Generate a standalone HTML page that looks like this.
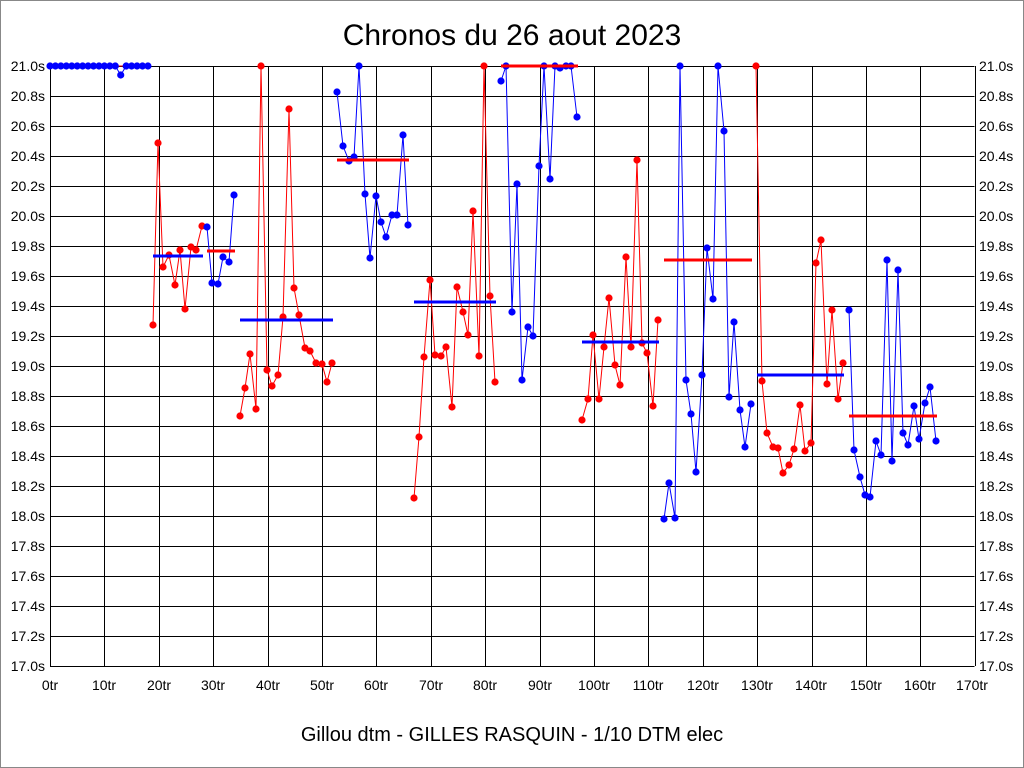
<!DOCTYPE html>
<html><head><meta charset="utf-8"><style>
html,body{margin:0;padding:0;background:#fff}
svg{display:block}
text{font-family:"Liberation Sans",sans-serif;fill:#000}
</style></head><body>
<svg id="s" width="1024" height="768" viewBox="0 0 1024 768" xmlns="http://www.w3.org/2000/svg">
<rect x="0.5" y="0.5" width="1023" height="767" fill="#fff" stroke="#888"/>
<text x="512" y="45" font-size="30" text-anchor="middle">Chronos du 26 aout 2023</text>
<text x="512" y="741" font-size="20" text-anchor="middle">Gillou dtm - GILLES RASQUIN - 1/10 DTM elec</text>
<g id="grid" stroke="#000" stroke-width="1"></g>
<g font-size="14">
<text x="45" y="71" text-anchor="end">21.0s</text><text x="45" y="101" text-anchor="end">20.8s</text><text x="45" y="131" text-anchor="end">20.6s</text><text x="45" y="161" text-anchor="end">20.4s</text><text x="45" y="191" text-anchor="end">20.2s</text><text x="45" y="221" text-anchor="end">20.0s</text><text x="45" y="251" text-anchor="end">19.8s</text><text x="45" y="281" text-anchor="end">19.6s</text><text x="45" y="311" text-anchor="end">19.4s</text><text x="45" y="341" text-anchor="end">19.2s</text><text x="45" y="371" text-anchor="end">19.0s</text><text x="45" y="401" text-anchor="end">18.8s</text><text x="45" y="431" text-anchor="end">18.6s</text><text x="45" y="461" text-anchor="end">18.4s</text><text x="45" y="491" text-anchor="end">18.2s</text><text x="45" y="521" text-anchor="end">18.0s</text><text x="45" y="551" text-anchor="end">17.8s</text><text x="45" y="581" text-anchor="end">17.6s</text><text x="45" y="611" text-anchor="end">17.4s</text><text x="45" y="641" text-anchor="end">17.2s</text><text x="45" y="671" text-anchor="end">17.0s</text>
<text x="979" y="71">21.0s</text><text x="979" y="101">20.8s</text><text x="979" y="131">20.6s</text><text x="979" y="161">20.4s</text><text x="979" y="191">20.2s</text><text x="979" y="221">20.0s</text><text x="979" y="251">19.8s</text><text x="979" y="281">19.6s</text><text x="979" y="311">19.4s</text><text x="979" y="341">19.2s</text><text x="979" y="371">19.0s</text><text x="979" y="401">18.8s</text><text x="979" y="431">18.6s</text><text x="979" y="461">18.4s</text><text x="979" y="491">18.2s</text><text x="979" y="521">18.0s</text><text x="979" y="551">17.8s</text><text x="979" y="581">17.6s</text><text x="979" y="611">17.4s</text><text x="979" y="641">17.2s</text><text x="979" y="671">17.0s</text>
<text x="50" y="690" text-anchor="middle">0tr</text><text x="104" y="690" text-anchor="middle">10tr</text><text x="159" y="690" text-anchor="middle">20tr</text><text x="213" y="690" text-anchor="middle">30tr</text><text x="268" y="690" text-anchor="middle">40tr</text><text x="322" y="690" text-anchor="middle">50tr</text><text x="376" y="690" text-anchor="middle">60tr</text><text x="431" y="690" text-anchor="middle">70tr</text><text x="485" y="690" text-anchor="middle">80tr</text><text x="540" y="690" text-anchor="middle">90tr</text><text x="594" y="690" text-anchor="middle">100tr</text><text x="648" y="690" text-anchor="middle">110tr</text><text x="703" y="690" text-anchor="middle">120tr</text><text x="757" y="690" text-anchor="middle">130tr</text><text x="811" y="690" text-anchor="middle">140tr</text><text x="866" y="690" text-anchor="middle">150tr</text><text x="920" y="690" text-anchor="middle">160tr</text><text x="972" y="690" text-anchor="middle">170tr</text>
</g>
<g id="data"></g>
</svg>
<script>
var NS="http://www.w3.org/2000/svg";
function el(p,n,a){var e=document.createElementNS(NS,n);for(var k in a)e.setAttribute(k,a[k]);p.appendChild(e);return e;}
var g=document.getElementById('grid');
for(var i=0;i<=20;i++){var y=66+i*30;el(g,'line',{x1:50,x2:974.5,y1:y+.5,y2:y+.5});}
for(var i=0;i<=17;i++){var x=Math.round(50+i*54.4)+.5;el(g,'line',{x1:x,x2:x,y1:66,y2:666});}
var d=document.getElementById('data');
var R='#f00',B='#00f';
var topPts=[];for(var t=0;t<=18;t++)topPts.push([50+t*5.44,t==13?75:66]);
var segs=[
[R,[[50,66],[148,66]]],
[B,topPts],
[R,[[153,325],[158,143],[163,267],[169,255],[175,285],[180,250],[185,309],[191,247],[196,250],[202,226]]],
[B,[[207,227],[212,283],[218,284],[223,257],[229,262],[234,195]]],
[R,[[240,416],[245,388],[250,354],[256,409],[261,66],[267,370],[272,386],[278,375],[283,317],[289,109],[294,288],[299,315],[305,348],[310,351],[316,363],[322,364],[327,382],[332,363]]],
[B,[[337,92],[343,146],[349,161],[354,157],[359,66],[365,194],[370,258],[376,196],[381,222],[386,237],[392,215],[397,215],[403,135],[408,225]]],
[R,[[414,498],[419,437],[424,357],[430,280],[435,355],[441,356],[446,347],[452,407],[457,287],[463,312],[468,335],[473,211],[479,356],[484,66],[490,296],[495,382]]],
[B,[[501,81],[506,66],[512,312],[517,184],[522,380],[528,327],[533,336],[539,166],[544,66],[550,179],[555,66],[560,68],[566,66],[571,66],[577,117]]],
[R,[[582,420],[588,399],[593,335],[599,399],[604,347],[609,298],[615,365],[620,385],[626,257],[631,347],[637,160],[642,343],[647,353],[653,406],[658,320]]],
[B,[[664,519],[669,483],[675,518],[680,66],[686,380],[691,414],[696,472],[702,375],[707,248],[713,299],[718,66],[724,131],[729,397],[734,322],[740,410],[745,447],[751,404]]],
[R,[[756,66],[762,381],[767,433],[773,447],[778,448],[783,473],[789,465],[794,449],[800,405],[805,451],[811,443],[816,263],[821,240],[827,384],[832,310],[838,399],[843,363]]],
[B,[[849,310],[854,450],[860,477],[865,495],[870,497],[876,441],[881,455],[887,260],[892,461],[898,270],[903,433],[908,445],[914,406],[919,439],[925,403],[930,387],[936,441]]]
];
var avg=[[B,153,203,256],[R,207,235,251],[B,240,333,320],[R,337,409,160],[B,414,496,302],[R,501,578,66],[B,582,659,342],[R,664,752,260],[B,757,844,375],[R,849,937,416]];
segs.forEach(function(s,idx){
 el(d,'polyline',{points:s[1].map(function(p){return p.join(',')}).join(' '),fill:'none',stroke:s[0],'stroke-width':1});
 if(idx>0)s[1].forEach(function(p){el(d,'circle',{cx:p[0],cy:p[1],r:3.6,fill:s[0]});});
});
avg.forEach(function(a){el(d,'line',{x1:a[1],x2:a[2],y1:a[3],y2:a[3],stroke:a[0],'stroke-width':3});});
</script>
</body></html>
